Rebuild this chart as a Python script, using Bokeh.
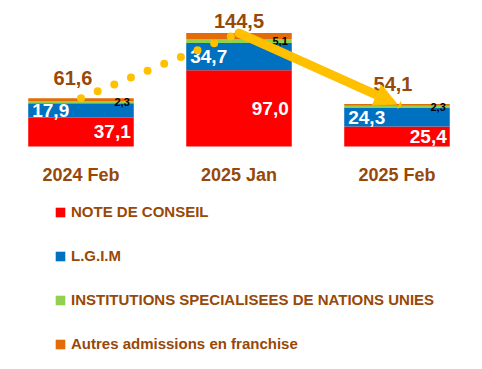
import numpy as np
from bokeh.plotting import figure
from bokeh.models import Range1d, ColumnDataSource, Legend, LegendItem, Arrow, NormalHead
from bokeh.core.properties import value
from bokeh.embed import file_html
from bokeh.resources import INLINE

# ---- data ----
categories = ["2024 Feb", "2025 Jan", "2025 Feb"]
note_conseil = [37.1, 97.0, 25.4]
lgim = [17.9, 34.7, 24.3]
institutions = [2.3, 5.1, 2.3]
autres = [4.3, 7.7, 2.1]
totals = [61.6, 144.5, 54.1]
series_names = ["NOTE DE CONSEIL", "L.G.I.M",
                "INSTITUTIONS SPECIALISEES DE NATIONS UNIES",
                "Autres admissions en franchise"]

# ---- style ----
colors = ["#FF0000", "#0070C0", "#92D050", "#E36C09"]
brown = "#984807"
gold = "#FFC000"
FONT_NAME = "Liberation Sans"
FONT = value(FONT_NAME)
BAR_W = 0.668
total_x_off = [-8, 0, -4]
total_y_off = [-20, -12, -20]

def fmt(v):
    return f"{v:.1f}".replace(".", ",")

xs = list(range(len(categories)))
src = ColumnDataSource(dict(x=xs, note=note_conseil, lgim=lgim, inst=institutions,
                            autres=autres))

W, H = 482, 369
PX_PER_X = 158.0
PX_PER_Y = 0.785
BASE = 146
x0 = -80.5 / PX_PER_X
p = figure(width=W, height=H, output_backend="svg", toolbar_location=None,
           x_range=Range1d(x0, x0 + W / PX_PER_X),
           y_range=Range1d(-(H - BASE) / PX_PER_Y, BASE / PX_PER_Y),
           x_axis_type=None, y_axis_type=None, min_border=0)
p.grid.visible = False
p.outline_line_color = None
p.background_fill_color = "white"

bars = p.vbar_stack(["note", "lgim", "inst", "autres"], x="x", width=BAR_W, source=src,
                    color=colors, line_color=None)

note = np.array(note_conseil); lg = np.array(lgim); ins = np.array(institutions)
xa = np.array(xs, dtype=float)

# red labels (right, white)
p.text(x=xa + BAR_W / 2, y=note / 2, text=[fmt(v) for v in note_conseil],
       x_offset=-3, text_align="right", text_baseline="middle",
       text_color="white", text_font=FONT, text_font_style="bold",
       text_font_size="19px")
# blue labels (left, white)
p.text(x=xa - BAR_W / 2, y=note + lg / 2, text=[fmt(v) for v in lgim],
       x_offset=4, text_align="left", text_baseline="middle",
       text_color="white", text_font=FONT, text_font_style="bold",
       text_font_size="19px")
# green labels (right, black, small)
p.text(x=xa + BAR_W / 2, y=note + lg + ins / 2, text=[fmt(v) for v in institutions],
       x_offset=-4, text_align="right", text_baseline="middle",
       text_color="black", text_font=FONT, text_font_style="bold",
       text_font_size="11px")

# dotted trend line and arrow
p.line(x=xs[:2], y=totals[:2], line_color=gold, line_width=8,
       line_dash="0 18", line_cap="round")
p.add_layout(Arrow(x_start=xs[1], y_start=totals[1], x_end=xs[2], y_end=totals[2],
                   line_color=gold, line_width=9, line_cap="round",
                   end=NormalHead(size=22, fill_color=gold, line_color=gold)))

# totals
p.text(x=xs, y=totals, text=[fmt(v) for v in totals],
       x_offset=total_x_off, y_offset=total_y_off,
       text_align="center", text_baseline="middle", text_color=brown,
       text_font=FONT, text_font_style="bold", text_font_size="20px")

# category labels
p.text(x=xs, y=[0] * len(xs), text=categories, y_offset=28,
       text_align="center", text_baseline="middle", text_color=brown,
       text_font=FONT, text_font_style="bold", text_font_size="18px")

# legend
items = [LegendItem(label=name, renderers=[r]) for name, r in zip(series_names, bars)]
legend = Legend(items=items, location=(54, 17), orientation="vertical",
                glyph_width=12, glyph_height=12, label_height=12,
                label_standoff=5, spacing=27, padding=0, margin=0,
                border_line_color=None, background_fill_alpha=0,
                label_text_font=FONT_NAME, label_text_font_style="bold",
                label_text_font_size="15px", label_text_color=brown)
p.add_layout(legend)

open("out.html", "w").write(file_html(p, INLINE))
